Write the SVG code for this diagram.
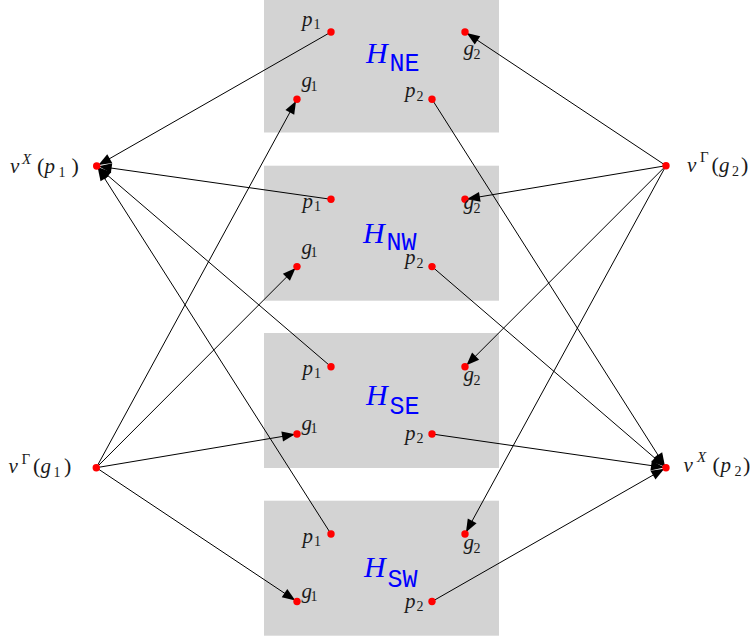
<svg xmlns="http://www.w3.org/2000/svg" width="751" height="638" viewBox="0 0 751 638">
<style>
.box{fill:#d3d3d3}
.dot{fill:#ff0000}
.edge{stroke:#000;stroke-width:1;fill:none;marker-end:url(#arr)}
.m{font-family:'Liberation Serif','DejaVu Serif',serif;font-size:21px;fill:#1a1a1a}
.i{font-style:italic}
.s{font-size:14px;font-style:normal}
.sI{font-size:15px;font-style:italic}
.sU{font-size:15px;font-style:normal}
.p{font-size:22px;font-style:normal}
.H{font-family:'Liberation Serif','DejaVu Serif',serif;font-style:italic;font-size:30px;fill:#0000ff}
.tt{font-family:'Liberation Mono','DejaVu Sans Mono',monospace;font-style:normal;font-size:25px;fill:#0000ff}
</style>
<defs>
<marker id="arr" viewBox="-15 -7 18 14" markerWidth="18" markerHeight="14" refX="2" refY="0" orient="auto" markerUnits="userSpaceOnUse">
<path d="M0,0 L-13,-5 L-13,5 Z" fill="#000"/>
</marker>
</defs>

<g id="box-NE"><rect class="box" x="264" y="-2.5" width="235" height="135"/>
<text class="H" x="366" y="63.3">H</text><text class="tt" x="389.5" y="70.7">NE</text></g>
<g id="box-NW"><rect class="box" x="264" y="165.7" width="235" height="135"/>
<text class="H" x="363" y="243.3">H</text><text class="tt" x="386.5" y="250.3">NW</text></g>
<g id="box-SE"><rect class="box" x="264" y="333" width="235" height="135"/>
<text class="H" x="366" y="405.3">H</text><text class="tt" x="389.5" y="413.7">SE</text></g>
<g id="box-SW"><rect class="box" x="264" y="500.7" width="235" height="135"/>
<text class="H" x="364" y="577.3">H</text><text class="tt" x="387.5" y="586.7">SW</text></g>

<g id="connectors">
<line class="edge" x1="331" y1="32" x2="96.7" y2="166"/>
<line class="edge" x1="331" y1="199.3" x2="96.7" y2="166"/>
<line class="edge" x1="331" y1="366.7" x2="96.7" y2="166"/>
<line class="edge" x1="331" y1="534" x2="96.7" y2="166"/>
<line class="edge" x1="96.3" y1="467.7" x2="297" y2="99.3"/>
<line class="edge" x1="96.3" y1="467.7" x2="297" y2="266.6"/>
<line class="edge" x1="96.3" y1="467.7" x2="297" y2="434"/>
<line class="edge" x1="96.3" y1="467.7" x2="297" y2="601.5"/>
<line class="edge" x1="666" y1="165.7" x2="465" y2="32"/>
<line class="edge" x1="666" y1="165.7" x2="465" y2="199.3"/>
<line class="edge" x1="666" y1="165.7" x2="465" y2="366.7"/>
<line class="edge" x1="666" y1="165.7" x2="465" y2="534"/>
<line class="edge" x1="432" y1="99.3" x2="666" y2="467.7"/>
<line class="edge" x1="432" y1="266.6" x2="666" y2="467.7"/>
<line class="edge" x1="432" y1="434" x2="666" y2="467.7"/>
<line class="edge" x1="432" y1="601.5" x2="666" y2="467.7"/>
</g>

<g id="NE-p1"><circle class="dot" cx="331" cy="32" r="3.7"/><text class="m"><tspan class="i" x="302" y="25.5">p</tspan><tspan class="s" x="313.5" y="29">1</tspan></text></g>
<g id="NE-g2"><circle class="dot" cx="465" cy="32" r="3.7"/><text class="m"><tspan class="i" x="463.5" y="55">g</tspan><tspan class="s" x="473.5" y="58.5">2</tspan></text></g>
<g id="NE-g1"><circle class="dot" cx="297" cy="99.3" r="3.7"/><text class="m"><tspan class="i" x="301.5" y="87">g</tspan><tspan class="s" x="310.5" y="90.5">1</tspan></text></g>
<g id="NE-p2"><circle class="dot" cx="432" cy="99.3" r="3.7"/><text class="m"><tspan class="i" x="405" y="97">p</tspan><tspan class="s" x="416.5" y="100.5">2</tspan></text></g>

<g id="NW-p1"><circle class="dot" cx="331" cy="199.3" r="3.7"/><text class="m"><tspan class="i" x="302.5" y="207.5">p</tspan><tspan class="s" x="314" y="211">1</tspan></text></g>
<g id="NW-g2"><circle class="dot" cx="465" cy="199.3" r="3.7"/><text class="m"><tspan class="i" x="463.5" y="209">g</tspan><tspan class="s" x="473.5" y="212.5">2</tspan></text></g>
<g id="NW-g1"><circle class="dot" cx="297" cy="266.6" r="3.7"/><text class="m"><tspan class="i" x="301.5" y="253.5">g</tspan><tspan class="s" x="310.5" y="257">1</tspan></text></g>
<g id="NW-p2"><circle class="dot" cx="432" cy="266.6" r="3.7"/><text class="m"><tspan class="i" x="405" y="264">p</tspan><tspan class="s" x="416.5" y="267.5">2</tspan></text></g>

<g id="SE-p1"><circle class="dot" cx="331" cy="366.7" r="3.7"/><text class="m"><tspan class="i" x="302.5" y="374.5">p</tspan><tspan class="s" x="314" y="378">1</tspan></text></g>
<g id="SE-g2"><circle class="dot" cx="465" cy="366.7" r="3.7"/><text class="m"><tspan class="i" x="463.5" y="381">g</tspan><tspan class="s" x="473.5" y="384.5">2</tspan></text></g>
<g id="SE-g1"><circle class="dot" cx="297" cy="434" r="3.7"/><text class="m"><tspan class="i" x="301.5" y="429.5">g</tspan><tspan class="s" x="310.5" y="433">1</tspan></text></g>
<g id="SE-p2"><circle class="dot" cx="432" cy="434" r="3.7"/><text class="m"><tspan class="i" x="405" y="439.5">p</tspan><tspan class="s" x="416.5" y="443">2</tspan></text></g>

<g id="SW-p1"><circle class="dot" cx="331" cy="534" r="3.7"/><text class="m"><tspan class="i" x="302.5" y="542.5">p</tspan><tspan class="s" x="314" y="546">1</tspan></text></g>
<g id="SW-g2"><circle class="dot" cx="465" cy="534" r="3.7"/><text class="m"><tspan class="i" x="463.5" y="549">g</tspan><tspan class="s" x="473.5" y="552.5">2</tspan></text></g>
<g id="SW-g1"><circle class="dot" cx="297" cy="601.5" r="3.7"/><text class="m"><tspan class="i" x="301.5" y="597.5">g</tspan><tspan class="s" x="310.5" y="601">1</tspan></text></g>
<g id="SW-p2"><circle class="dot" cx="432" cy="601.5" r="3.7"/><text class="m"><tspan class="i" x="405" y="607.5">p</tspan><tspan class="s" x="416.5" y="611">2</tspan></text></g>

<g id="vX-p1"><circle class="dot" cx="96.7" cy="166" r="3.7"/>
<text class="m"><tspan class="i" x="10" y="173">v</tspan><tspan class="sI" x="22" y="163.5">X</tspan><tspan class="p" x="37" y="173">(</tspan><tspan class="i" x="44.5" y="173">p</tspan><tspan class="s" x="58.5" y="177">1</tspan><tspan class="p" x="71.5" y="173">)</tspan></text></g>
<g id="vG-g1"><circle class="dot" cx="96.3" cy="467.7" r="3.7"/>
<text class="m"><tspan class="i" x="8.5" y="473">v</tspan><tspan class="sU" x="21.5" y="463.5">Γ</tspan><tspan class="p" x="33" y="473">(</tspan><tspan class="i" x="40.5" y="473">g</tspan><tspan class="s" x="53.5" y="477">1</tspan><tspan class="p" x="64" y="473">)</tspan></text></g>
<g id="vG-g2"><circle class="dot" cx="666" cy="165.7" r="3.7"/>
<text class="m"><tspan class="i" x="687" y="171.5">v</tspan><tspan class="sU" x="700" y="162">Γ</tspan><tspan class="p" x="711.5" y="171.5">(</tspan><tspan class="i" x="719" y="171.5">g</tspan><tspan class="s" x="732" y="175.5">2</tspan><tspan class="p" x="741" y="171.5">)</tspan></text></g>
<g id="vX-p2"><circle class="dot" cx="666" cy="467.7" r="3.7"/>
<text class="m"><tspan class="i" x="683.5" y="471.5">v</tspan><tspan class="sI" x="697" y="462">X</tspan><tspan class="p" x="712.5" y="471.5">(</tspan><tspan class="i" x="720.5" y="471.5">p</tspan><tspan class="s" x="734.5" y="475.5">2</tspan><tspan class="p" x="743" y="471.5">)</tspan></text></g>
</svg>
